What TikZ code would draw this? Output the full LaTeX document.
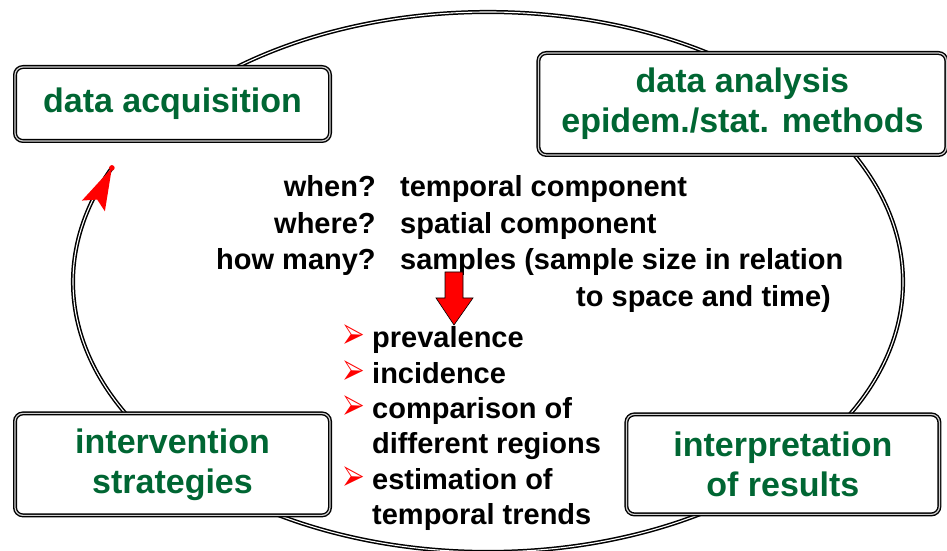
\documentclass[tikz,border=0pt]{standalone}
\usepackage{fontspec}
\setmainfont{Liberation Sans}
\usepackage{pifont}
\usepackage{graphicx}
\usetikzlibrary{positioning}

\definecolor{leaf}{RGB}{0,102,51}
\newcommand{\pointer}{\llap{\textcolor{red}{\scalebox{0.75}[1.25]{\fontsize{30}{30}\selectfont\ding{226}}}\hspace{8pt}}}

\begin{document}
\begin{tikzpicture}[x=1pt, y=1pt,
        every node/.style={font=\bfseries},
        stage/.style={draw, double=gray!35, line width=1.4pt, double distance=1.2pt, rounded corners=8pt,
            fill=white, align=center, text=leaf, font=\fontsize{34}{40}\selectfont\bfseries},
        loop/.style={draw, double=white, line width=1.5pt, double distance=1.1pt}
    ]
    \useasboundingbox (0,0) rectangle (947,551);

    % Cycle
    \coordinate (c) at (488,269);
    \draw[loop] (c) ++(135:415pt and 270pt)
        arc[start angle=135, end angle=-205, x radius=415pt, y radius=270pt] coordinate (tip);
    \fill[red] (tip) -- ++(-30,-32.7) -- ++(15.3,1) -- ++(7.7,-11.7) -- cycle;
    \fill[red] (tip) circle[radius=2.8pt];

    % Nodes
    \node[stage, minimum width=315pt, minimum height=74pt] (acq) at (172.5,447) {data acquisition};
    \node[stage, minimum width=408pt, minimum height=102pt, right=207pt of acq] (ana) {data analysis\\ epidem./stat. methods};
    \node[stage, minimum width=315pt, minimum height=102pt, below=271pt of acq] (inter) {intervention\\ strategies};
    \node[stage, minimum width=313pt, minimum height=100pt, right=295pt of inter] (res) {interpretation\\ of results};

    \node[anchor=base west, inner sep=0, font=\fontsize{29}{36.5}\selectfont\bfseries] (quest) at (216,354) {%
        \begin{tabular}[t]{@{}r@{\hspace{24.5pt}}l@{}}
            when? & temporal component \\
            where? & spatial component \\
            how many? & samples (sample size in relation \\
                      & \hspace{176pt}to space and time)
        \end{tabular}};

    % Block arrow
    \draw[fill=red, line width=0.6pt] (445,279) -- (463,279) -- (463,253) -- (473,253)
        -- (454,226) -- (436,253) -- (445,253) -- cycle;

    \node[anchor=base west, inner sep=0, font=\fontsize{29}{35.3}\selectfont\bfseries] (gains) at (372,203) {%
        \begin{tabular}[t]{@{}l@{}}
            \pointer prevalence \\
            \pointer incidence \\
            \pointer comparison of \\
            different regions \\
            \pointer estimation of \\
            temporal trends
        \end{tabular}};

\end{tikzpicture}
\end{document}
